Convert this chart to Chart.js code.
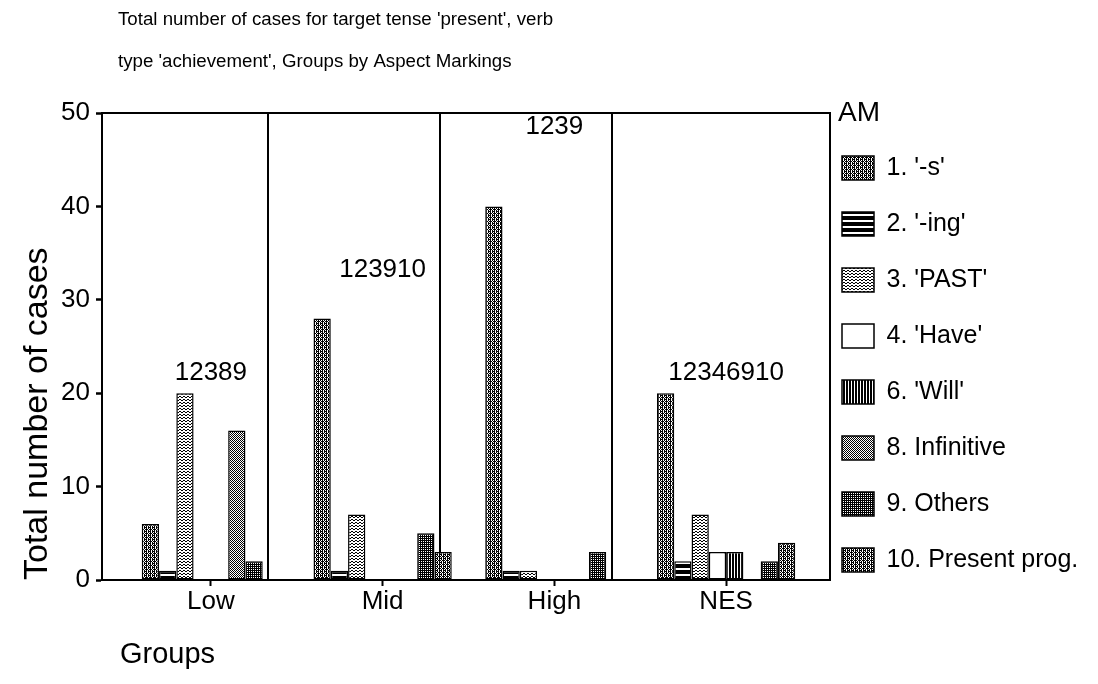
<!DOCTYPE html>
<html>
<head>
<meta charset="utf-8">
<script src="https://cdn.jsdelivr.net/npm/chart.js@4/dist/chart.umd.min.js"></script>
<style>
html,body{margin:0;padding:0;background:#fff;}
#c{display:block;}
</style>
</head>
<body>
<canvas id="c" width="1098" height="684"></canvas>
<script>
// ---- data ----
const groups = ['Low', 'Mid', 'High', 'NES'];
const seriesLabels = ["1. '-s'", "2. '-ing'", "3. 'PAST'", "4. 'Have'", "6. 'Will'", "8. Infinitive", "9. Others", "10. Present prog."];
const sValues          = [6, 28, 40, 20];
const ingValues        = [1, 1, 1, 2];
const pastValues       = [20, 7, 1, 7];
const haveValues       = [null, null, null, 3];
const willValues       = [null, null, null, 3];
const infinitiveValues = [16, null, null, null];
const othersValues     = [2, 5, 3, 2];
const presProgValues   = [null, 3, null, 4];
const groupCodes       = ['12389', '123910', '1239', '12346910'];
const groupCodeLevels  = [22.2, 33.2, 48.5, 22.2];
const yTicks           = [0, 10, 20, 30, 40, 50];
const titleLines = ["Total number of cases for target tense 'present', verb", "type 'achievement', Groups by Aspect Markings"];
const xTitle = 'Groups';
const yTitle = 'Total number of cases';
const legendTitle = 'AM';

const series = [sValues, ingValues, pastValues, haveValues, willValues, infinitiveValues, othersValues, presProgValues];

// ---- patterns ----
function makePattern(rows) {
  const h = rows.length, w = rows[0].length;
  const c = document.createElement('canvas');
  c.width = w; c.height = h;
  const g = c.getContext('2d');
  g.fillStyle = '#fff'; g.fillRect(0, 0, w, h);
  g.fillStyle = '#000';
  for (let r = 0; r < h; r++) for (let k = 0; k < w; k++) if (rows[r][k] === '#') g.fillRect(k, r, 1, 1);
  return g.createPattern(c, 'repeat');
}
const patterns = [
  makePattern(['#.#.', '.###', '#.#.', '###.']),
  makePattern(['#', '#', '#', '#', '.', '.']),
  makePattern(['#..#', '.##.', '....']),
  '#ffffff',
  makePattern(['##.']),
  makePattern(['#.#.', '.#.#']),
  makePattern(['##', '#.']),
  makePattern(['#.##', '.#.#', '##.#', '.#.#'])
];

const FAM = '"Liberation Sans", Arial, Helvetica, sans-serif';
const X_MIN = -0.634, X_MAX = 3.605;

const overlay = {
  id: 'overlay',
  beforeLayout(chart) {
    const lg = chart.legend;
    if (lg && !lg._wfix) {
      const f = lg.fit.bind(lg);
      lg.fit = function () { f(); this.width = 260; };
      lg._wfix = true;
    }
  },
  afterDraw(chart) {
    const ctx = chart.ctx, x = chart.scales.x, y = chart.scales.y;
    ctx.save();
    ctx.fillStyle = '#000';
    ctx.textBaseline = 'middle';
    ctx.textAlign = 'left';
    ctx.font = '18.7px ' + FAM;
    titleLines.forEach((t, i) => ctx.fillText(t, 118, 20 + i * 42));
    ctx.font = '29px ' + FAM;
    ctx.fillText(xTitle, 120, 655);
    ctx.textAlign = 'center';
    ctx.font = '26px ' + FAM;
    groupCodes.forEach((t, i) => ctx.fillText(t, x.getPixelForValue(i), y.getPixelForValue(groupCodeLevels[i])));
    ctx.restore();
  }
};

new Chart(document.getElementById('c'), {
  type: 'bar',
  data: {
    datasets: series.map((vals, k) => ({
      label: seriesLabels[k],
      data: vals.map((v, i) => ({ x: i, y: v })),
      backgroundColor: patterns[k],
      borderColor: '#000',
      borderWidth: 1.5,
      borderSkipped: false
    }))
  },
  plugins: [overlay],
  options: {
    responsive: false,
    animation: false,
    layout: { padding: 0 },
    datasets: { bar: { categoryPercentage: 0.805, barPercentage: 1 } },
    plugins: {
      tooltip: { enabled: false },
      legend: {
        position: 'right',
        align: 'start',
        title: {
          display: true, text: legendTitle, position: 'start', color: '#000',
          font: { size: 28, family: FAM, lineHeight: 1 },
          padding: { top: 99, bottom: 24.5 }
        },
        labels: {
          boxWidth: 32, boxHeight: 24, padding: 4, color: '#000',
          font: { size: 25, family: FAM, lineHeight: 2.08 },
          generateLabels(chart) {
            return Chart.defaults.plugins.legend.labels.generateLabels(chart).map(it => Object.assign({}, it, { text: [it.text], lineWidth: 1.5 }));
          }
        }
      }
    },
    scales: {
      x: {
        type: 'linear', position: 'bottom', min: X_MIN, max: X_MAX, offset: false,
        afterBuildTicks: s => { s.ticks = groups.map((g, i) => ({ value: i })); },
        afterFit: s => { s.height = 104; },
        ticks: { callback: v => groups[v], color: '#000', font: { size: 26, family: FAM, lineHeight: 1 }, padding: 3, autoSkip: false, maxRotation: 0 },
        grid: { drawOnChartArea: false, drawTicks: true, tickLength: 6, tickWidth: 2, tickColor: '#000', offset: false },
        border: { display: true, color: '#000', width: 2 }
      },
      xsep: {
        type: 'linear', position: 'top', min: X_MIN, max: X_MAX, offset: false,
        afterBuildTicks: s => { s.ticks = [0, 1, 2].map(i => ({ value: i + 0.335 })); },
        afterFit: s => { s.height = 113; },
        ticks: { display: false },
        grid: { display: true, drawOnChartArea: true, drawTicks: false, color: '#000', lineWidth: 2, offset: false },
        border: { display: true, color: '#000', width: 2 }
      },
      y: {
        position: 'left', min: 0, max: 50,
        afterBuildTicks: s => { s.ticks = yTicks.map(v => ({ value: v })); },
        afterFit: s => { s.width = 102; },
        ticks: { color: '#000', font: { size: 26, family: FAM }, padding: 6 },
        grid: { drawOnChartArea: false, tickLength: 6, tickWidth: 2.5, tickColor: '#000' },
        border: { display: true, color: '#000', width: 2 },
        title: { display: true, text: yTitle, align: 'start', color: '#000', font: { size: 34, family: FAM, lineHeight: 1 }, padding: { top: 21, bottom: 0 } }
      },
      y2: {
        position: 'right',
        afterFit: s => { s.width = 8; },
        ticks: { display: false },
        grid: { display: false },
        border: { display: true, color: '#000', width: 2 }
      }
    }
  }
});
</script>
</body>
</html>
